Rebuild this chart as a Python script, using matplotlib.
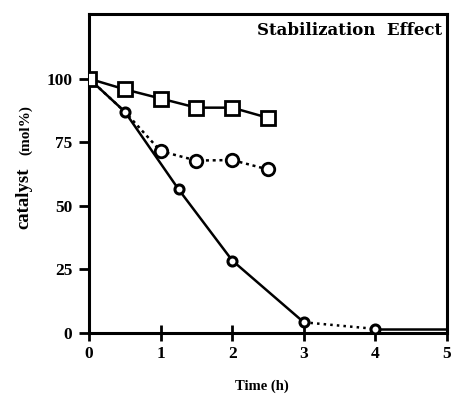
import numpy as np
import matplotlib
matplotlib.use('Agg')
import matplotlib.pyplot as plt

plt.rcParams['font.family'] = ['Liberation Serif', 'DejaVu Serif']
plt.rcParams['font.weight'] = 'bold'

# dados
t_quad = [0, 0.5, 1, 1.5, 2, 2.5]
y_quad = [100, 95.8, 92.2, 88.6, 88.6, 84.6]

t_circ = [0, 0.5, 1, 1.5, 2, 2.5]
y_circ = [100, 87, 71.5, 67.8, 68.0, 64.3]

t_sem = [0, 0.5, 1.25, 2, 3, 4, 5]
y_sem = [100, 87, 56.5, 28.5, 4.2, 1.6, 1.6]

xticks = [0, 1, 2, 3, 4, 5]
yticks = [0, 25, 50, 75, 100]

fig = plt.figure(figsize=(4.52, 3.95), dpi=100)
ax = fig.add_axes([0.197, 0.157, 0.792, 0.808])

# sem estabilizante: solido ate 3, pontilhado 3-4, solido 4-5
ax.plot(t_sem[:5], y_sem[:5], color='black', lw=1.8, zorder=2)
ax.plot(t_sem[4:6], y_sem[4:6], color='black', lw=1.8, ls=':', zorder=2)
ax.plot(t_sem[5:], y_sem[5:], color='black', lw=1.8, zorder=2)
ax.plot(t_sem[1:6], y_sem[1:6], ls='none', marker='o', ms=6.5, mfc='white',
        mec='black', mew=2.2, zorder=4)

# circulos pontilhados (o ponto de 0.5 coincide com o outro)
ax.plot(t_circ, y_circ, color='black', lw=1.8, ls=(0, (1.2, 1.5)),
        marker='o', ms=9, mfc='white', mec='black', mew=2.0,
        markevery=list(range(2, len(t_circ))), zorder=3)

# quadrados
ax.plot(t_quad, y_quad, color='black', lw=1.8, marker='s', ms=10.5,
        mfc='white', mec='black', mew=2.0, zorder=5)

ax.set_xlim(0, 5)
ax.set_ylim(0, 125.5)
ax.set_xticks(xticks)
ax.set_yticks(yticks)
ax.tick_params(axis='both', direction='out', length=7, width=2,
               labelsize=12.5, pad=5)
ax.tick_params(axis='x', direction='inout', length=11, pad=4)
for lab in ax.get_xticklabels() + ax.get_yticklabels():
    lab.set_fontweight('bold')
for s in ax.spines.values():
    s.set_linewidth(2.2)

ax.text(0.985, 0.975, 'Stabilization  Effect', transform=ax.transAxes,
        ha='right', va='top', fontsize=12, fontweight='bold',
        family='DejaVu Serif')
ax.text(-0.183, 0.423, 'catalyst', transform=ax.transAxes, rotation=90,
        ha='center', va='center', fontsize=13.5, fontweight='bold')
ax.text(-0.178, 0.636, '(mol%)', transform=ax.transAxes, rotation=90,
        ha='center', va='center', fontsize=11, fontweight='bold')
fig.text(262 / 452, 1 - 386 / 395, 'Time (h)', ha='center', va='center',
         fontsize=10.5, fontweight='bold')

fig.savefig('out.png', dpi=100)
